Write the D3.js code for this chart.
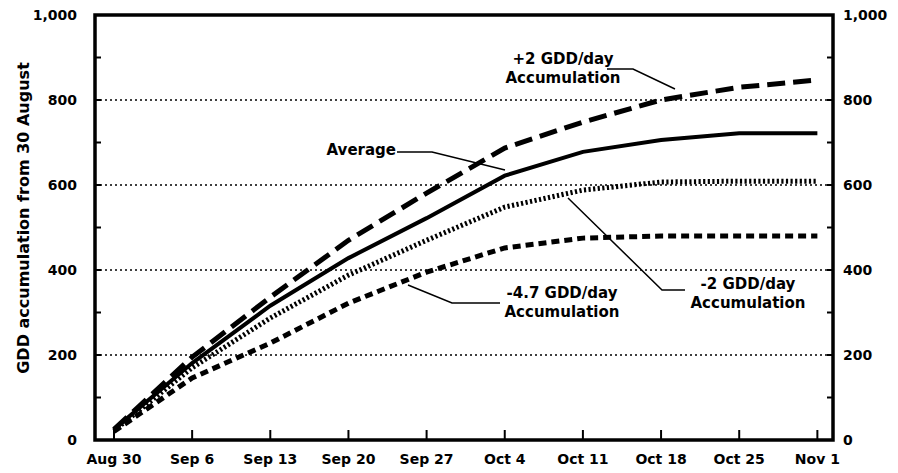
<!DOCTYPE html>
<html>
<head>
<meta charset="utf-8">
<script src="https://cdnjs.cloudflare.com/ajax/libs/d3/7.8.5/d3.min.js"></script>
<style>
  html, body { margin: 0; padding: 0; background: #fff; }
  text { font-family: "DejaVu Sans", "Liberation Sans", Arial, sans-serif; font-weight: bold; fill: #000; }
</style>
</head>
<body>
<script>
// weekly dates and GDD accumulation
var weekLabels = ["Aug 30", "Sep 6", "Sep 13", "Sep 20", "Sep 27", "Oct 4", "Oct 11", "Oct 18", "Oct 25", "Nov 1"];
var dayOffsets = [0, 7, 14, 21, 28, 35, 42, 49, 56, 63];
var average = [25, 181, 316, 428, 522, 622, 678, 706, 722, 722];
var plus2 = [25, 195, 336, 470, 581, 687, 748, 800, 830, 847];
var minus2 = [22, 170, 287, 388, 470, 548, 588, 607, 609, 609];
var minus47 = [20, 146, 228, 322, 395, 452, 475, 480, 480, 480];
var majorTicks = [0, 200, 400, 600, 800, 1000];
var minorTicks = [100, 300, 500, 700, 900];

var width = 898, height = 473;
var svg = d3.select('body').append('svg').attr('width', width).attr('height', height);

var x = d3.scaleLinear().domain([-1.7, 64.4]).range([95, 833]);
var y = d3.scaleLinear().domain([0, 1000]).range([440, 15]);

// dotted grid
svg.selectAll('.grid').data([200, 400, 600, 800]).enter().append('line')
    .attr('x1', x.range()[0]).attr('x2', x.range()[1])
    .attr('y1', function (d) { return y(d); }).attr('y2', function (d) { return y(d); })
    .attr('stroke', '#000').attr('stroke-width', 1.5).attr('stroke-dasharray', '2,3');

// inward ticks on left/right
var allY = majorTicks.concat(minorTicks);
svg.selectAll('.ltick').data(allY).enter().append('line')
    .attr('x1', x.range()[0]).attr('x2', x.range()[0] + 6)
    .attr('y1', function (d) { return y(d); }).attr('y2', function (d) { return y(d); })
    .attr('stroke', '#000').attr('stroke-width', 2);
svg.selectAll('.rtick').data(allY).enter().append('line')
    .attr('x1', x.range()[1]).attr('x2', x.range()[1] - 6)
    .attr('y1', function (d) { return y(d); }).attr('y2', function (d) { return y(d); })
    .attr('stroke', '#000').attr('stroke-width', 2);

// x ticks pointing up
svg.selectAll('.xtick').data(dayOffsets).enter().append('line')
    .attr('x1', function (d) { return x(d); }).attr('x2', function (d) { return x(d); })
    .attr('y1', y(0)).attr('y2', y(0) - 10)
    .attr('stroke', '#000').attr('stroke-width', 2);

// frame
svg.append('rect')
    .attr('x', x.range()[0]).attr('y', y(1000))
    .attr('width', x.range()[1] - x.range()[0]).attr('height', y(0) - y(1000))
    .attr('fill', 'none').attr('stroke', '#000').attr('stroke-width', 3.5);

// tick labels
svg.selectAll('.ylabL').data(majorTicks).enter().append('text')
    .attr('x', 77).attr('y', function (d) { return y(d); }).attr('dy', '0.36em')
    .attr('text-anchor', 'end').style('font-size', '14px')
    .text(function (d) { return d3.format(',')(d); });
svg.selectAll('.ylabR').data(majorTicks).enter().append('text')
    .attr('x', 843).attr('y', function (d) { return y(d); }).attr('dy', '0.36em')
    .attr('text-anchor', 'start').style('font-size', '14px')
    .text(function (d) { return d3.format(',')(d); });
svg.selectAll('.xlab').data(weekLabels).enter().append('text')
    .attr('x', function (d, i) { return x(dayOffsets[i]); }).attr('y', 464)
    .attr('text-anchor', 'middle').style('font-size', '14px')
    .text(function (d) { return d; });

svg.append('text')
    .attr('transform', 'translate(29,' + 218 + ') rotate(-90)')
    .attr('text-anchor', 'middle').style('font-size', '16px')
    .text('GDD accumulation from 30 August');

// series
var line = d3.line()
    .x(function (d, i) { return x(dayOffsets[i]); })
    .y(function (d) { return y(d); });

var series = [
    { values: plus2, width: 5, dash: '18,8' },
    { values: average, width: 4, dash: null },
    { values: minus2, width: 5, dash: '2.2,2.4' },
    { values: minus47, width: 5, dash: '8,5' }
];
svg.selectAll('.series').data(series).enter().append('path')
    .attr('d', function (d) { return line(d.values); })
    .attr('fill', 'none').attr('stroke', '#000')
    .attr('stroke-width', function (d) { return d.width; })
    .attr('stroke-dasharray', function (d) { return d.dash; });

// annotations
function label(lines, cx, cy) {
    lines.forEach(function (t, i) {
        svg.append('text').attr('x', cx).attr('y', cy + i * 19)
            .attr('text-anchor', 'middle').style('font-size', '15px').text(t);
    });
}
function leader(pts) {
    svg.append('path').attr('d', d3.line()(pts))
        .attr('fill', 'none').attr('stroke', '#000').attr('stroke-width', 1.5);
}

label(['+2 GDD/day', 'Accumulation'], 563, 64);
leader([[607, 69], [633, 69], [675, 89]]);

svg.append('text').attr('x', 396).attr('y', 155).attr('text-anchor', 'end')
    .style('font-size', '15px').text('Average');
leader([[397, 152], [432, 152], [505, 170]]);

label(['-2 GDD/day', 'Accumulation'], 748, 289);
leader([[568, 198], [662, 290], [685, 290]]);

label(['-4.7 GDD/day', 'Accumulation'], 562, 298);
leader([[408, 285], [452, 303], [500, 303]]);
</script>
</body>
</html>
